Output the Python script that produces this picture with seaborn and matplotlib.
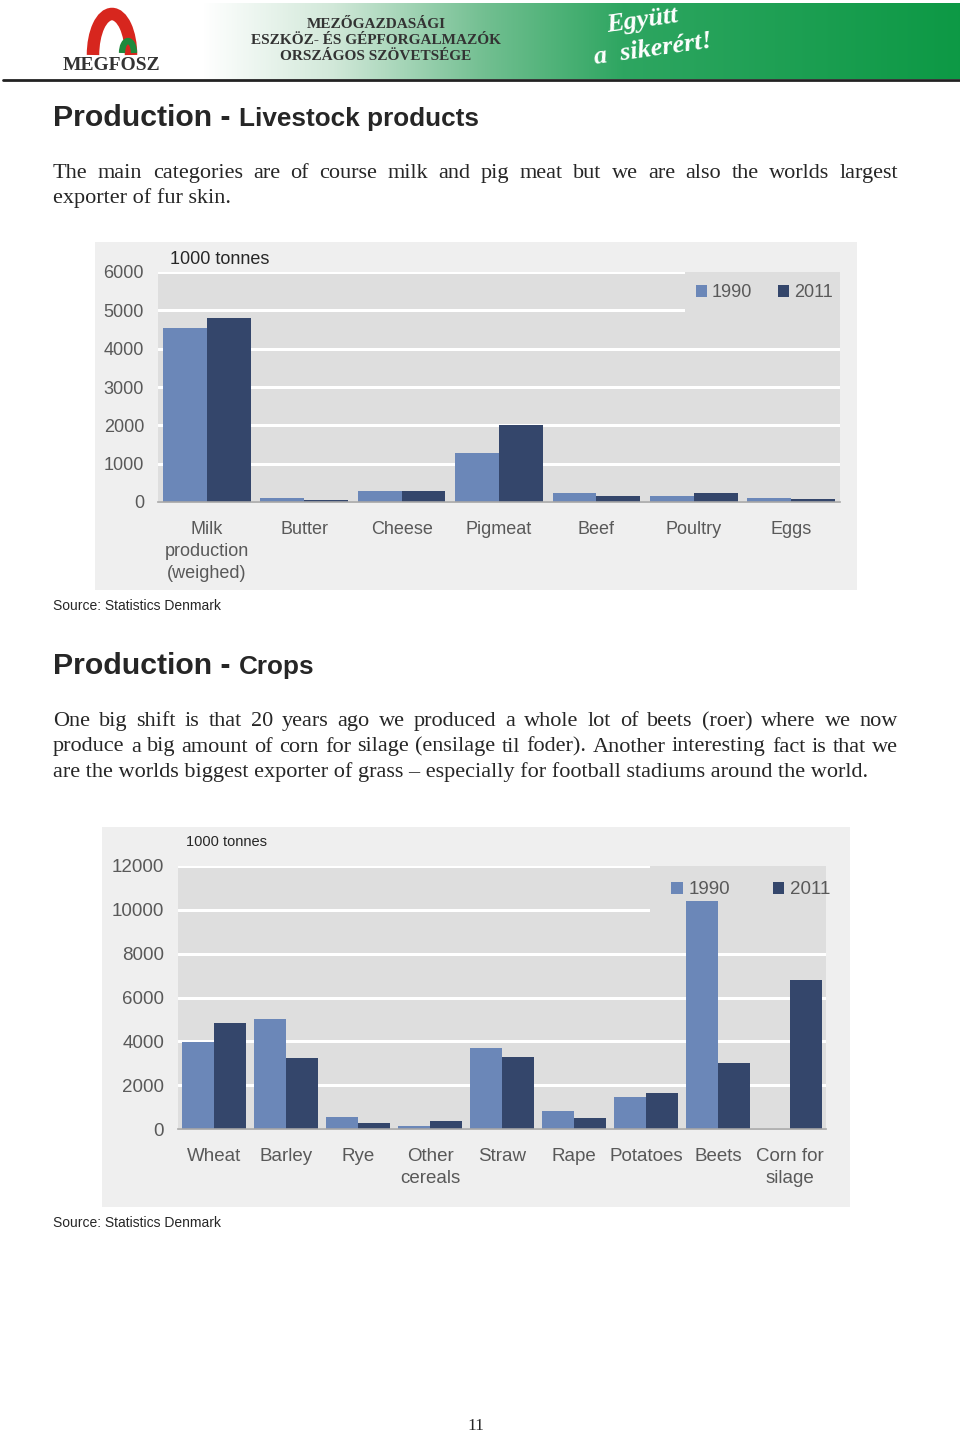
import numpy as np
import pandas as pd
import matplotlib
matplotlib.use("Agg")
import matplotlib.pyplot as plt
from matplotlib.patches import Rectangle, Arc
import seaborn as sns

sns.set_style(style='white')
plt.rcParams['font.family'] = ['Liberation Sans', 'DejaVu Sans']

# livestock products, 1000 tonnes
livestock_cats = ["Milk\nproduction\n(weighed)", "Butter", "Cheese", "Pigmeat", "Beef", "Poultry", "Eggs"]
livestock_1990 = [4530, 100, 300, 1270, 225, 150, 95]
livestock_2011 = [4790, 45, 280, 2020, 155, 225, 70]

# crops, 1000 tonnes
crop_cats = ["Wheat", "Barley", "Rye", "Other\ncereals", "Straw", "Rape", "Potatoes", "Beets", "Corn for\nsilage"]
crop_1990 = [3950, 5010, 535, 140, 3700, 810, 1480, 10400, 0]
crop_2011 = [4840, 3250, 290, 380, 3280, 500, 1630, 2990, 6790]

years = ["1990", "2011"]
colors = ["#6b87b8", "#34466b"]
grey_txt = "#595959"

W, H = 960, 1433
fig = plt.figure(figsize=(W / 100, H / 100), dpi=100)
fig.patch.set_facecolor("white")


def box(x0, y0, x1, y1):
    return [x0 / W, 1 - y1 / H, (x1 - x0) / W, (y1 - y0) / H]


def ftext(x, y, s, **kw):
    return fig.text(x / W, 1 - y / H, s, **kw)


#%% header banner
hax = fig.add_axes(box(3, 3, 960, 79))
stops_x = [0, 200, 330, 480, 620, 957]
stops_c = [(1, 1, 1), (1, 1, 1), (0.82, 0.91, 0.85), (0.45, 0.75, 0.57), (0.18, 0.65, 0.38), (0.05, 0.60, 0.27)]
xs = np.arange(957)
grad = np.stack([np.interp(xs, stops_x, [c[k] for c in stops_c]) for k in range(3)], axis=-1)
hax.imshow(grad[None, :, :], aspect="auto", extent=[0, 957, 76, 0])
hax.set_xlim(0, 957)
hax.set_ylim(76, 0)
hax.add_patch(Arc((109, 52), 38, 82, theta1=180, theta2=360, lw=9, color="#d7261e"))
hax.add_patch(Arc((125, 50), 12, 24, theta1=180, theta2=360, lw=4.5, color="#1e8a3c"))
hax.axis("off")
fig.add_artist(plt.Line2D([3 / W, 1], [1 - 80 / H, 1 - 80 / H], color="#222222", lw=2))
ftext(111, 70, "MEGFOSZ", family="Liberation Serif", weight="bold", size=14, color="#333333", ha="center", va="baseline")
for yy, s in [(24, "MEZŐGAZDASÁGI"), (41, "ESZKÖZ- ÉS GÉPFORGALMAZÓK"), (57, "ORSZÁGOS SZÖVETSÉGE")]:
    ftext(376, yy, s, family="Liberation Serif", weight="bold", size=11, color="#333333", ha="center", va="center")
ftext(605, 32, "Együtt", family="Liberation Serif", weight="bold", style="italic", size=19, color="white", rotation=8, va="baseline")
ftext(592, 64, "a  sikerért!", family="Liberation Serif", weight="bold", style="italic", size=19, color="white", rotation=8, va="baseline")


#%% body text helpers
def justified(lines, x0, x1, y0, dy, size=16):
    renderer = fig.canvas.get_renderer()
    for i, line in enumerate(lines):
        y = y0 + i * dy
        if i == len(lines) - 1:
            ftext(x0, y, line, family="Liberation Serif", size=size, va="baseline")
            continue
        words = line.split()
        ts = [ftext(x0, y, w, family="Liberation Serif", size=size, va="baseline") for w in words]
        widths = [t.get_window_extent(renderer).width for t in ts]
        gap = ((x1 - x0) - sum(widths)) / (len(words) - 1)
        x = x0
        for t, w in zip(ts, widths):
            t.set_x(x / W)
            x += w + gap


def heading(y, small):
    t = ftext(53, y, "Production - ", weight="bold", size=21.8, va="baseline")
    r = fig.canvas.get_renderer()
    wpx = t.get_window_extent(r).width
    ftext(53 + wpx, y, small, weight="bold", size=18.8, va="baseline")


heading(126, "Livestock products")
justified(["The main categories are of course milk and pig meat but we are also the worlds largest",
           "exporter of fur skin."], 53, 898, 178, 25.5)

heading(674, "Crops")
justified(["One big shift is that 20 years ago we produced a whole lot of beets (roer) where we now",
           "produce a big amount of corn for silage (ensilage til foder). Another interesting fact is that we",
           "are the worlds biggest exporter of grass \u2013 especially for football stadiums around the world."],
          53, 898, 726, 25.5)

ftext(476, 1430, "11", family="Liberation Serif", size=12.5, ha="center", va="baseline")


#%% charts
def bar_chart(panel, axbox, cats, v1990, v2011, ymax, ystep, unit_xy, unit_size, leg_bg, leg_center, colspace, fs, ypad):
    fig.patches.append(Rectangle((panel[0] / W, 1 - panel[3] / H), (panel[2] - panel[0]) / W,
                                 (panel[3] - panel[1]) / H, transform=fig.transFigure,
                                 facecolor="#efefef", edgecolor="none", zorder=-1))
    ax = fig.add_axes(box(*axbox))
    df = pd.DataFrame({"category": cats * 2,
                       "value": v1990 + v2011,
                       "year": [years[0]] * len(cats) + [years[1]] * len(cats)})
    sns.barplot(data=df, x="category", y="value", hue="year", palette=colors,
                saturation=1, width=0.9, gap=0, linewidth=0, ax=ax)
    ax.set_facecolor("#dedede")
    ax.set_ylim(0, ymax)
    ax.set_yticks(np.arange(0, ymax + 1, ystep))
    ax.set_axisbelow(True)
    ax.yaxis.grid(True, color="white", lw=2.2)
    ax.xaxis.grid(False)
    for s in ["top", "right", "left"]:
        ax.spines[s].set_visible(False)
    ax.spines["bottom"].set_color("#a6a6a6")
    ax.spines["bottom"].set_linewidth(1.2)
    ax.tick_params(axis="both", length=0, labelsize=fs, labelcolor=grey_txt)
    ax.tick_params(axis="x", pad=14)
    ax.tick_params(axis="y", pad=ypad)
    for lab in ax.get_xticklabels():
        lab.set_linespacing(1.35)
    ax.set_xlabel("")
    ax.set_ylabel("")
    ax.add_patch(Rectangle((leg_bg[0], leg_bg[1]), 1 - leg_bg[0], 1 - leg_bg[1], transform=ax.transAxes,
                           facecolor="#dedede", edgecolor="none", zorder=0.8))
    handles, labels = ax.get_legend_handles_labels()
    ax.legend(handles, labels, loc="center", bbox_to_anchor=leg_center, ncol=2, frameon=False,
              handlelength=0.6, handleheight=0.6, handletextpad=0.3, columnspacing=colspace,
              fontsize=fs, labelcolor=grey_txt)
    ftext(unit_xy[0], unit_xy[1], "1000 tonnes", size=unit_size, va="center")
    return ax


bar_chart((95, 242, 857, 590), (158, 272, 840, 502), livestock_cats, livestock_1990, livestock_2011,
          6000, 1000, (170, 260), 13, (0.773, 0.77), (0.889, 0.909), 1.4, 13, 10)
ftext(53, 606, "Source: Statistics Denmark", size=10, va="center")

bar_chart((102, 827, 850, 1207), (178, 866, 826, 1129), crop_cats, crop_1990, crop_2011,
          12000, 2000, (186, 842), 10.5, (0.728, 0.81), (0.884, 0.909), 2.3, 13.5, 10)
ftext(53, 1223, "Source: Statistics Denmark", size=10, va="center")

fig.savefig("out.png", dpi=100)
